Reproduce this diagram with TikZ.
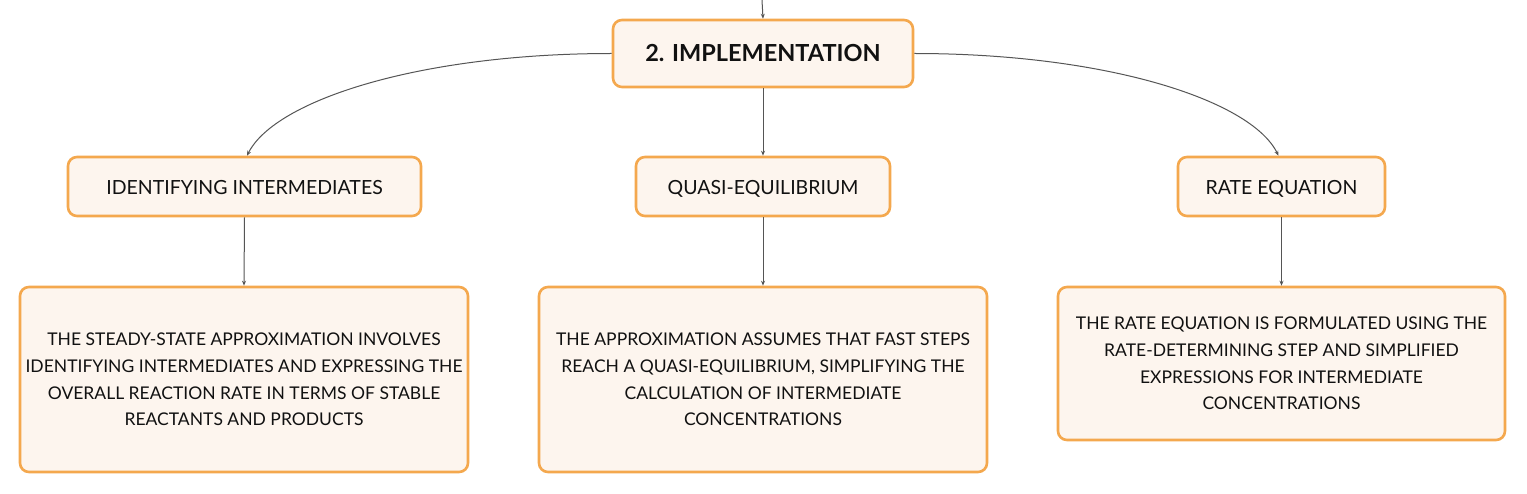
\documentclass[tikz,border=0pt]{standalone}
\usepackage{fontspec}
\setmainfont{Lato}
\usetikzlibrary{arrows.meta}
\definecolor{boxborder}{HTML}{F4A84E}
\definecolor{boxfill}{HTML}{FDF5EE}
\definecolor{linkgray}{HTML}{555555}
\definecolor{txt}{HTML}{111111}
\newcommand\capline[1]{\raisebox{-8.3pt}[0pt][0pt]{#1}}
\tikzset{
  box/.style={draw=boxborder, fill=boxfill, line width=2.6pt, rounded corners=9pt,
    text=txt, align=center, inner sep=0pt},
  rootbox/.style={box, minimum width=300pt, minimum height=67pt,
    font=\fontsize{23.5}{28}\selectfont\bfseries},
  childbox/.style={box, minimum height=59pt, font=\fontsize{19.5}{24}\selectfont},
  leafbox/.style={box, font=\fontsize{17.5}{26.7}\selectfont},
  link/.style={draw=linkgray, line width=1pt, -{Stealth[length=5pt,width=4pt]}}
}
\begin{document}
\begin{tikzpicture}[x=1pt,y=-1pt]
\useasboundingbox (0,0) rectangle (1527,494);
\fill[white] (0,0) rectangle (1527,494);
\node[rootbox] (root) at (763,53.5) {2. IMPLEMENTATION};
\coordinate (in) at (762,0);
\node[childbox, minimum width=353pt] (c1) at (244.5,186.5) {\capline{IDENTIFYING INTERMEDIATES}};
\node[childbox, minimum width=254pt] (c2) at (763,186.5) {\capline{QUASI-EQUILIBRIUM}};
\node[childbox, minimum width=207pt] (c3) at (1281.5,186.5) {\capline{RATE EQUATION}};
\node[leafbox, minimum width=448pt, minimum height=185pt] (l1) at (244,379.5)
  {THE STEADY-STATE APPROXIMATION INVOLVES\\IDENTIFYING INTERMEDIATES AND EXPRESSING THE\\OVERALL REACTION RATE IN TERMS OF STABLE\\REACTANTS AND PRODUCTS};
\node[leafbox, minimum width=448pt, minimum height=185pt] (l2) at (763,379.5)
  {THE APPROXIMATION ASSUMES THAT FAST STEPS\\REACH A QUASI-EQUILIBRIUM, SIMPLIFYING THE\\CALCULATION OF INTERMEDIATE\\CONCENTRATIONS};
\node[leafbox, minimum width=447pt, minimum height=153pt] (l3) at (1281.5,363.5)
  {THE RATE EQUATION IS FORMULATED USING THE\\RATE-DETERMINING STEP AND SIMPLIFIED\\EXPRESSIONS FOR INTERMEDIATE\\CONCENTRATIONS};
\draw[link] (in) -- (root.north);
\draw[link] (root.west) .. controls (420,53.5) and (275,100) .. ([xshift=2.5pt]c1.north);
\draw[link] (root.east) .. controls (1106,53.5) and (1251,100) .. ([xshift=-3pt]c3.north);
\draw[link] (root.south) -- (c2.north);
\draw[link] (c1.south) -- (l1.north);
\draw[link] (c2.south) -- (l2.north);
\draw[link] (c3.south) -- (l3.north);
\end{tikzpicture}
\end{document}
